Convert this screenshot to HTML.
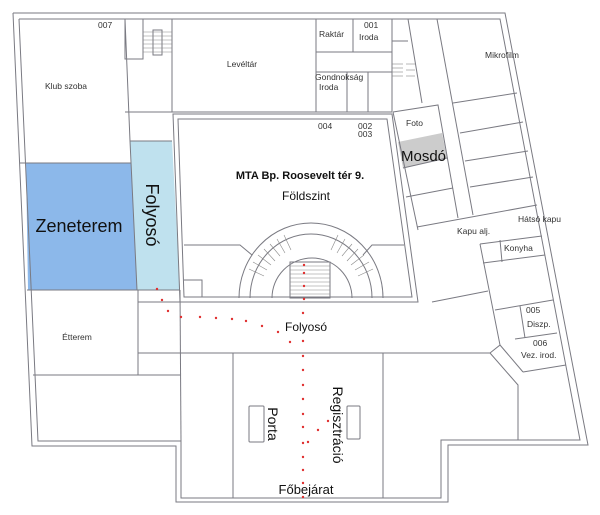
<!DOCTYPE html>
<html><head><meta charset="utf-8"><style>
html,body{margin:0;padding:0;background:#fff;}
svg{display:block;}
text{font-family:"Liberation Sans",sans-serif;fill:#111;}
.s{font-size:8.5px;fill:#333;}
</style></head><body>
<svg width="600" height="515" viewBox="0 0 600 515" xmlns="http://www.w3.org/2000/svg">
<rect width="600" height="515" fill="#fff"/>
<polygon points="26,163 131,163 137,290 28,290" fill="#8cb8ea"/>
<polygon points="130,141 172,141 180,290 137,290" fill="#bfe1ee"/>
<polygon points="398,142 442,133 447,158 403,168" fill="#cccccc"/>
<g fill="none" stroke="#7a7a82" stroke-width="1">
<polyline points="13,13 505,13 588,445 448,445 448,502 176,502 176,446 32,446 13,13"/>
<polyline points="19,19 500,19 580,440 441,440 441,498 181,498 181,441 38,441 19,19"/>
<polyline points="125,19 130,141 137,290"/>
<line x1="20" y1="163" x2="131" y2="163"/>
<line x1="27" y1="290" x2="180" y2="290"/>
<line x1="125" y1="112" x2="172" y2="112"/>
<line x1="130" y1="141" x2="172" y2="141"/>
<line x1="172" y1="19" x2="172" y2="112"/>
<line x1="138" y1="290" x2="138" y2="375"/>
<line x1="33" y1="375" x2="181" y2="375"/>
<line x1="138" y1="302" x2="181" y2="302"/>
<line x1="138" y1="353" x2="181" y2="353"/>
<line x1="180" y1="290" x2="181" y2="441"/>
<rect x="125" y="19" width="18" height="40"/>
<rect x="153" y="30" width="9" height="25"/>
<line x1="316" y1="19" x2="316" y2="112"/>
<line x1="172" y1="112" x2="392" y2="112"/>
<line x1="316" y1="52" x2="392" y2="52"/>
<line x1="316" y1="72" x2="392" y2="72"/>
<line x1="353" y1="19" x2="353" y2="52"/>
<line x1="347" y1="72" x2="347" y2="112"/>
<line x1="368" y1="72" x2="368" y2="112"/>
<line x1="392" y1="19" x2="392" y2="112"/>
<line x1="392" y1="41" x2="408" y2="41"/>
<line x1="408" y1="19" x2="422" y2="103"/>
<line x1="437" y1="19" x2="473" y2="215"/>
<polygon points="173,114 392,114 418,302 180,302"/>
<polygon points="178,119 387,119 412,297 184,297"/>
<path d="M239,298 A72,75 0 0 1 383,298"/>
<path d="M250,298 A61,64 0 0 1 372,298"/>
<path d="M272,298 A40,40 0 0 1 352,298"/>
<polyline points="184,245 240,245 252,255"/>
<polyline points="404,245 372,245 363,255"/>
<polyline points="184,280 202,280 202,297"/>
<rect x="290" y="262" width="40" height="36"/>
<polyline points="393,112 438,105 458,218"/>
<line x1="393" y1="112" x2="418" y2="230"/>
<line x1="403" y1="168" x2="447" y2="158"/>
<line x1="406" y1="197" x2="453" y2="188"/>
<line x1="453" y1="103" x2="517" y2="93"/>
<line x1="460" y1="133" x2="523" y2="122"/>
<line x1="465" y1="161" x2="528" y2="151"/>
<line x1="470" y1="187" x2="533" y2="177"/>
<line x1="417" y1="227" x2="537" y2="205"/>
<polyline points="480,244 542,236"/>
<line x1="483" y1="263" x2="545" y2="255"/>
<line x1="500" y1="240" x2="502" y2="262"/>
<polyline points="480,244 500,345 490,353"/>
<line x1="432" y1="302" x2="488" y2="291"/>
<line x1="495" y1="310" x2="553" y2="300"/>
<line x1="520" y1="306" x2="525" y2="338"/>
<line x1="515" y1="339" x2="557" y2="333"/>
<line x1="523" y1="372" x2="566" y2="365"/>
<polyline points="500,345 523,372"/>
<polyline points="490,353 518,385 518,440"/>
<line x1="181" y1="353" x2="490" y2="353"/>
<line x1="233" y1="353" x2="233" y2="498"/>
<line x1="383" y1="353" x2="383" y2="498"/>
<rect x="249" y="406" width="15" height="36" rx="1"/>
<rect x="347" y="406" width="13" height="33" rx="1"/>
</g>
<g stroke="#888" stroke-width="0.6">
<line x1="143" y1="32" x2="172" y2="32"/><line x1="143" y1="36" x2="172" y2="36"/>
<line x1="143" y1="40" x2="172" y2="40"/><line x1="143" y1="44" x2="172" y2="44"/>
<line x1="143" y1="48" x2="172" y2="48"/><line x1="143" y1="52" x2="172" y2="52"/>
<line x1="392" y1="64" x2="403" y2="64"/><line x1="392" y1="68" x2="403" y2="68"/>
<line x1="392" y1="72" x2="403" y2="72"/><line x1="392" y1="76" x2="403" y2="76"/>
<line x1="406" y1="64" x2="415" y2="64"/><line x1="406" y1="70" x2="415" y2="70"/><line x1="406" y1="76" x2="415" y2="76"/>
<line x1="290" y1="266" x2="330" y2="266"/><line x1="290" y1="270" x2="330" y2="270"/>
<line x1="290" y1="274" x2="330" y2="274"/><line x1="290" y1="278" x2="330" y2="278"/>
<line x1="290" y1="282" x2="330" y2="282"/><line x1="290" y1="286" x2="330" y2="286"/>
<line x1="290" y1="290" x2="330" y2="290"/><line x1="290" y1="294" x2="330" y2="294"/>
<line x1="264" y1="276" x2="249" y2="269"/><line x1="267" y1="270" x2="253" y2="262"/>
<line x1="271" y1="265" x2="258" y2="255"/><line x1="275" y1="261" x2="264" y2="249"/>
<line x1="280" y1="256" x2="270" y2="244"/><line x1="285" y1="253" x2="277" y2="239"/>
<line x1="291" y1="250" x2="284" y2="235"/>
<line x1="358" y1="276" x2="373" y2="269"/><line x1="355" y1="270" x2="369" y2="262"/>
<line x1="351" y1="265" x2="364" y2="255"/><line x1="347" y1="261" x2="358" y2="249"/>
<line x1="342" y1="256" x2="352" y2="244"/><line x1="337" y1="253" x2="345" y2="239"/>
<line x1="331" y1="250" x2="338" y2="235"/>
</g>
<g fill="#e03030">
<circle cx="157" cy="289" r="1.2"/><circle cx="162" cy="300" r="1.2"/><circle cx="168" cy="311" r="1.2"/>
<circle cx="181" cy="317" r="1.2"/><circle cx="200" cy="317" r="1.2"/><circle cx="216" cy="318" r="1.2"/>
<circle cx="232" cy="319" r="1.2"/><circle cx="246" cy="321" r="1.2"/><circle cx="262" cy="326" r="1.2"/>
<circle cx="278" cy="332" r="1.2"/><circle cx="290" cy="342" r="1.2"/><circle cx="303" cy="341" r="1.2"/>
<circle cx="303" cy="313" r="1.2"/><circle cx="304" cy="299" r="1.2"/><circle cx="304" cy="286" r="1.2"/>
<circle cx="304" cy="273" r="1.2"/><circle cx="304" cy="265" r="1.2"/>
<circle cx="303" cy="356" r="1.2"/><circle cx="303" cy="370" r="1.2"/><circle cx="303" cy="385" r="1.2"/>
<circle cx="303" cy="399" r="1.2"/><circle cx="303" cy="414" r="1.2"/><circle cx="303" cy="427" r="1.2"/>
<circle cx="303" cy="443" r="1.2"/><circle cx="303" cy="457" r="1.2"/><circle cx="303" cy="470" r="1.2"/>
<circle cx="303" cy="483" r="1.2"/><circle cx="303" cy="497" r="1.2"/>
<circle cx="328" cy="421" r="1.2"/><circle cx="318" cy="430" r="1.2"/><circle cx="308" cy="442" r="1.2"/>
</g>
<text class="s" x="98" y="28" font-size="7">007</text>
<text class="s" x="66" y="89" text-anchor="middle">Klub szoba</text>
<text class="s" x="242" y="67" text-anchor="middle">Levéltár</text>
<text class="s" x="319" y="37">Raktár</text>
<text class="s" x="364" y="28" font-size="7">001</text>
<text class="s" x="359" y="40">Iroda</text>
<text class="s" x="315" y="80">Gondnokság</text>
<text class="s" x="319" y="90">Iroda</text>
<text class="s" x="318" y="129" font-size="7">004</text>
<text class="s" x="358" y="129" font-size="7">002</text>
<text class="s" x="358" y="137" font-size="7">003</text>
<text class="s" x="485" y="58">Mikrofilm</text>
<text class="s" x="406" y="126">Foto</text>
<text x="401" y="161" font-size="15">Mosdó</text>
<text x="300" y="179" font-size="11" font-weight="bold" text-anchor="middle">MTA Bp. Roosevelt tér 9.</text>
<text x="306" y="200" font-size="12" text-anchor="middle">Földszint</text>
<text x="79" y="232" font-size="18" text-anchor="middle">Zeneterem</text>
<text x="0" y="0" font-size="18" text-anchor="middle" transform="translate(146,215) rotate(90)">Folyosó</text>
<text class="s" x="457" y="234">Kapu alj.</text>
<text class="s" x="518" y="222">Hátsó kapu</text>
<text class="s" x="504" y="251">Konyha</text>
<text class="s" x="526" y="313" font-size="7">005</text>
<text class="s" x="527" y="327">Diszp.</text>
<text class="s" x="533" y="346" font-size="7">006</text>
<text class="s" x="521" y="358">Vez. irod.</text>
<text class="s" x="77" y="340" text-anchor="middle">Étterem</text>
<text x="306" y="331" font-size="12" text-anchor="middle">Folyosó</text>
<text x="0" y="0" font-size="14" text-anchor="middle" transform="translate(268,424) rotate(90)">Porta</text>
<text x="0" y="0" font-size="14" text-anchor="middle" transform="translate(333,425) rotate(90)">Regisztráció</text>
<text x="306" y="494" font-size="13" text-anchor="middle">Főbejárat</text>
</svg>
</body></html>
